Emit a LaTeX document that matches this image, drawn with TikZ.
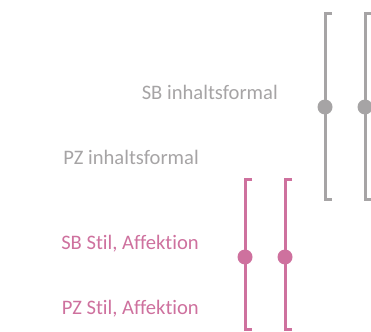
\documentclass[tikz,border=0pt]{standalone}
\usepackage{fontspec}
\setmainfont{Carlito}[Ligatures=NoCommon]
\usetikzlibrary{positioning}
\definecolor{grayline}{RGB}{166,164,165}
\definecolor{pinkline}{RGB}{206,113,158}

\begin{document}
\begin{tikzpicture}[x=1pt,y=-1pt,
lbl/.style={inner sep=0pt,font=\fontsize{20.6}{24}\selectfont},
knob/.style={circle,fill,inner sep=0pt,minimum size=15pt},
bar/.style={line width=3pt}]
\useasboundingbox (0,0) rectangle (371,331);
% labels
\node[lbl,text=grayline,anchor=base east] (sbform) at (278,100) {SB inhaltsformal};
\node[lbl,text=grayline,anchor=base east] (pzform) at (199,164) {PZ inhaltsformal};
\node[lbl,text=pinkline,anchor=base east] (sbstil) at (199,249) {SB Stil, Affektion};
\node[lbl,text=pinkline,anchor=base east] (pzstil) at (199,314) {PZ Stil, Affektion};
% gray brackets
\foreach \x/\n in {325/ga,365/gb}{
\draw[bar,grayline] (\x+7,14) -- (\x,14) -- (\x,199) -- (\x+7,199);
\node[knob,grayline] (\n) at (\x,107) {};
}
% pink brackets
\foreach \x/\n in {245/pa,285/pb}{
\draw[bar,pinkline] (\x+7,179) -- (\x,179) -- (\x,329) -- (\x+7,329);
\node[knob,pinkline] (\n) at (\x,257) {};
}
\end{tikzpicture}
\end{document}
